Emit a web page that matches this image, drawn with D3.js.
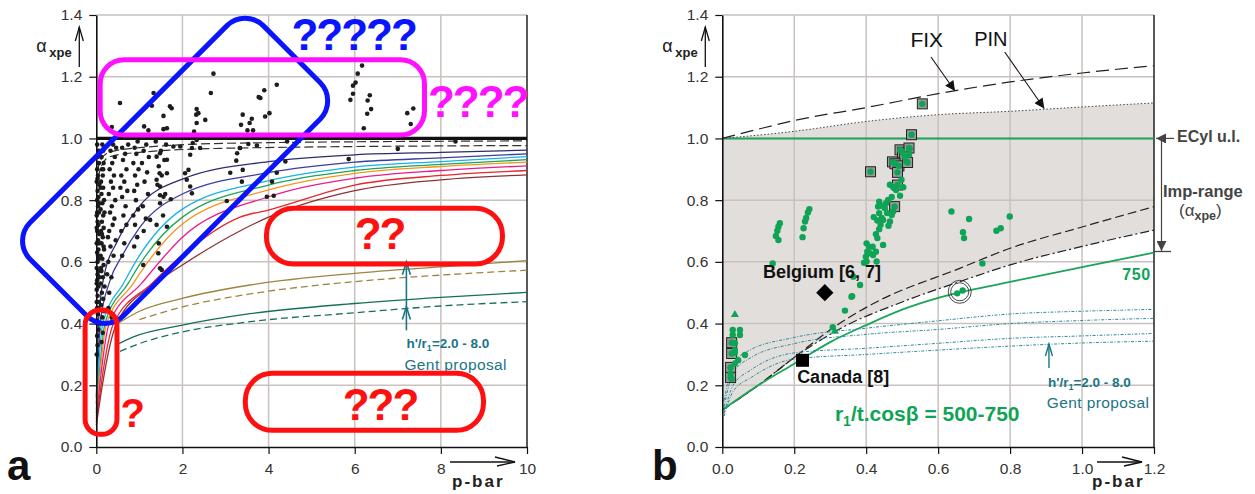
<!DOCTYPE html>
<html>
<head>
<meta charset="utf-8">
<script src="https://cdn.jsdelivr.net/npm/d3@7"></script>
<style>
body { margin: 0; background: #fff; }
svg { font-family: "Liberation Sans", Arial, sans-serif; }
</style>
</head>
<body>
<svg id="chart" width="1255" height="494"></svg>
<script>
// ---------- data ----------
const yTicks = [0, 0.2, 0.4, 0.6, 0.8, 1.0, 1.2, 1.4];
const aXTicks = [0, 2, 4, 6, 8, 10];
const bXTicks = [0, 0.2, 0.4, 0.6, 0.8, 1.0, 1.2];

// panel a : design curves (p-bar, alpha)
const aNavy = [[0,0.16],[0.01,0.2],[0.05,0.4],[0.16,0.54],[0.5,0.67],[1,0.78],[2,0.868],[4,0.925],[6,0.947],[8,0.955],[10,0.962]];
const aBlue = [[0,0.14],[0.02,0.2],[0.09,0.4],[0.32,0.54],[0.6,0.62],[1,0.71],[2,0.82],[4,0.889],[6,0.923],[8,0.937],[10,0.95]];
const aCyan = [[0,0.12],[0.03,0.2],[0.15,0.4],[0.63,0.53],[1,0.62],[2,0.771],[4,0.863],[6,0.907],[8,0.925],[10,0.941]];
const aGreen = [[0,0.11],[0.05,0.2],[0.2,0.4],[0.74,0.53],[1,0.59],[2,0.745],[4,0.849],[6,0.896],[8,0.916],[10,0.931]];
const aOrange = [[0,0.1],[0.06,0.2],[0.24,0.4],[0.86,0.53],[1,0.56],[2,0.723],[4,0.833],[6,0.887],[8,0.909],[10,0.923]];
const aMagenta = [[0,0.09],[0.08,0.2],[0.3,0.4],[1.05,0.53],[2,0.68],[4,0.811],[6,0.871],[8,0.896],[10,0.911]];
const aRed = [[0,0.08],[0.11,0.2],[0.4,0.4],[1.29,0.53],[2,0.622],[3.34,0.745],[4,0.768],[6,0.849],[8,0.88],[10,0.896]];
const aBrown = [[0,0.07],[0.14,0.2],[0.47,0.4],[1.37,0.53],[2,0.59],[3.4,0.705],[4,0.745],[6,0.831],[8,0.866],[10,0.882]];
const aDash1 = [[0.02,0.89],[0.1,0.93],[0.3,0.955],[1,0.97],[3.3,0.985],[10,0.992]];
const aDash2 = [[0.03,0.87],[0.12,0.91],[0.3,0.94],[1,0.955],[3.3,0.969],[10,0.977]];
const aOliveSolid = [[0.5,0.4],[1,0.44],[2,0.482],[3.57,0.525],[6,0.563],[8,0.584],[10,0.604]];
const aOliveDashed = [[1,0.413],[2,0.454],[3.57,0.496],[6,0.536],[8,0.557],[10,0.573]];
const aTealSolid = [[0.45,0.33],[0.86,0.357],[2,0.395],[3.57,0.432],[6,0.465],[8,0.485],[10,0.501]];
const aTealDashed = [[0.55,0.31],[1.02,0.336],[2,0.373],[3.57,0.406],[6,0.435],[8,0.457],[10,0.471]];
const aUnity = 1.0;

// panel a : test results
const aDots = [
  [0.01,0.30],[0.03,0.33],[0.02,0.36],[0.05,0.38],[0.01,0.41],[0.04,0.43],[0.02,0.45],[0.06,0.47],[0.03,0.49],[0.01,0.51],
  [0.05,0.52],[0.02,0.54],[0.07,0.55],[0.04,0.57],[0.01,0.58],[0.03,0.6],[0.06,0.61],[0.02,0.63],[0.05,0.64],[0.01,0.66],
  [0.04,0.67],[0.07,0.69],[0.02,0.7],[0.05,0.72],[0.03,0.73],[0.01,0.75],[0.06,0.76],[0.04,0.78],[0.02,0.8],[0.05,0.81],
  [0.03,0.83],[0.07,0.85],[0.01,0.86],[0.04,0.88],[0.02,0.9],[0.06,0.92],[0.03,0.94],[0.05,0.96],[0.02,0.98],[0.01,0.47],
  [0.03,0.56],[0.06,0.66],[0.01,0.71],[0.04,0.62],[0.02,0.76],[0.07,0.79],[0.03,0.87],[0.01,0.53],[0.05,0.45],[0.03,0.4],
  [0.12,0.34],[0.15,0.37],[0.1,0.4],[0.14,0.42],[0.18,0.44],[0.11,0.46],[0.16,0.48],[0.13,0.5],[0.19,0.52],[0.1,0.53],
  [0.15,0.55],[0.12,0.57],[0.17,0.59],[0.14,0.61],[0.1,0.62],[0.18,0.64],[0.12,0.66],[0.15,0.68],[0.11,0.7],[0.17,0.71],
  [0.13,0.73],[0.16,0.75],[0.1,0.77],[0.14,0.79],[0.18,0.8],[0.12,0.82],[0.16,0.84],[0.11,0.86],[0.15,0.88],[0.13,0.9],
  [0.17,0.92],[0.12,0.94],[0.16,0.96],[0.14,0.98],[0.11,0.58],[0.17,0.65],[0.13,0.69],[0.19,0.76],[0.1,0.84],[0.16,0.9],
  [0.3,0.5],[0.35,0.55],[0.28,0.6],[0.4,0.62],[0.33,0.65],[0.45,0.67],[0.3,0.7],[0.38,0.72],[0.42,0.74],[0.32,0.76],
  [0.36,0.78],[0.44,0.8],[0.29,0.82],[0.39,0.84],[0.34,0.86],[0.41,0.88],[0.31,0.9],[0.37,0.92],[0.43,0.94],[0.33,0.96],
  [0.39,0.98],[0.46,0.97],[0.28,0.45],[0.36,0.42],[0.25,0.56],[0.27,0.68],
  [0.6,0.62],[0.65,0.66],[0.58,0.7],[0.7,0.72],[0.63,0.75],[0.68,0.78],[0.6,0.81],[0.72,0.83],[0.65,0.86],[0.58,0.88],
  [0.7,0.9],[0.62,0.93],[0.67,0.95],[0.6,0.97],[0.74,0.98],[0.56,0.84],
  [0.88,0.65],[0.95,0.68],[0.9,0.72],[0.86,0.75],[0.97,0.77],[0.92,0.8],[0.88,0.83],[0.95,0.85],[0.9,0.88],[0.98,0.9],
  [0.86,0.92],[0.93,0.95],[0.89,0.97],[0.96,0.99],
  [1.1,0.7],[1.15,0.74],[1.08,0.78],[1.2,0.82],[1.12,0.86],[1.18,0.89],[1.06,0.92],[1.22,0.94],[1.1,0.96],[1.16,0.98],[1.09,0.59],
  [1.45,0.66],[1.4,0.72],[1.55,0.75],[1.48,0.79],[1.6,0.82],[1.42,0.85],[1.52,0.88],[1.45,0.91],[1.58,0.93],[1.5,0.96],
  [1.62,0.98],[1.38,0.99],[1.52,0.574],[1.48,0.816],[1.25,0.736],[1.64,0.714],[1.44,0.628],[1.48,0.579],
  [1.95,0.974],[2.24,0.985],[2.22,0.969],[2.18,0.947],[2.06,0.887],[2.14,0.898],[2.1,0.866],[2.18,0.844],[2.22,0.822],
  [1.79,0.974],[1.48,0.952],[1.64,0.931],[1.4,0.941],[1.47,0.887],[1.64,0.887],[1.4,0.866],[1.48,0.844],[1.56,0.811],[1.73,0.803],
  [3.27,0.952],[3.25,0.928],[3.33,0.969],[3.53,0.982],[3.73,0.977],[3.11,0.889],[3.4,0.898],[3.38,0.86],[3.03,0.797],
  [4.43,0.99],[4.19,0.889],[4.08,0.86],[3.96,0.811],[4.12,0.814],[2.33,0.995],[2.41,0.969],[4.39,0.925],[3.34,0.969],
  [5.86,0.933],[7.0,0.966],[8.34,0.99],
  // above unity
  [0.55,1.115],[1.33,1.147],[1.29,1.106],[1.71,1.104],[1.75,1.098],[1.56,1.073],[2.72,1.21],[2.66,1.147],[2.33,1.095],[2.37,1.082],
  [2.32,1.077],[2.53,1.06],[2.33,1.05],[4.19,1.174],[3.9,1.156],[3.77,1.134],[3.81,1.131],[4.02,1.082],[3.92,1.071],[3.4,1.077],
  [3.61,1.064],[3.36,1.044],[3.56,1.05],[3.51,1.026],[3.64,1.026],[1.11,1.039],[1.21,1.026],[1.56,1.03],[1.64,1.033],[2.27,1.022],
  [0.36,1.037],[6.17,1.236],[6.07,1.21],[6.02,1.181],[5.96,1.171],[5.96,1.145],[5.9,1.125],[6.35,1.14],[6.3,1.123],[6.38,1.095],
  [6.29,1.08],[6.21,1.033],[7.36,1.097],[7.22,1.082],[7.3,1.047]
];

// panel b : curves (p-bar, alpha)
const bFix = [[0,1.0],[0.1,1.03],[0.2,1.058],[0.4,1.1],[0.6,1.145],[0.8,1.183],[1.0,1.212],[1.2,1.236]];
const bPin = [[0,1.0],[0.2,1.023],[0.4,1.055],[0.6,1.077],[0.8,1.088],[1.0,1.102],[1.2,1.115]];
const bDashed = [[0,0.12],[0.1,0.2],[0.2,0.29],[0.3,0.38],[0.42,0.465],[0.66,0.579],[0.8,0.644],[1.0,0.713],[1.2,0.779]];
const bDashDot = [[0,0.12],[0.1,0.2],[0.2,0.29],[0.33,0.385],[0.5,0.47],[0.66,0.536],[0.8,0.59],[1.0,0.65],[1.2,0.703]];
const bGreen750 = [[0,0.12],[0.1,0.2],[0.2,0.27],[0.3,0.34],[0.4,0.395],[0.5,0.445],[0.6,0.483],[0.8,0.535],[1.0,0.583],[1.2,0.63]];
const bEcyl = 1.0;
const bGent = [
  [[0.005,0.15],[0.03,0.27],[0.07,0.31],[0.2,0.355],[0.4,0.385],[0.6,0.409],[0.8,0.431],[1.0,0.44],[1.2,0.446]],
  [[0.005,0.13],[0.03,0.24],[0.08,0.29],[0.2,0.335],[0.4,0.365],[0.6,0.381],[0.8,0.4],[1.0,0.41],[1.2,0.417]],
  [[0.005,0.11],[0.03,0.2],[0.08,0.25],[0.2,0.305],[0.4,0.32],[0.6,0.336],[0.8,0.352],[1.0,0.36],[1.2,0.368]],
  [[0.005,0.1],[0.03,0.18],[0.08,0.225],[0.2,0.285],[0.4,0.3],[0.6,0.314],[0.8,0.327],[1.0,0.337],[1.2,0.343]]
];

// panel b : test results
const bDots = [
  [0.521,0.966],[0.519,0.947],[0.512,0.925],[0.498,0.866],[0.503,0.842],[0.494,0.814],[0.475,0.842],[0.466,0.85],[0.483,0.833],[0.471,0.81],
  [0.461,0.801],[0.455,0.79],[0.436,0.795],[0.433,0.779],[0.446,0.781],[0.452,0.774],[0.458,0.758],[0.471,0.752],[0.475,0.763],[0.436,0.758],
  [0.443,0.742],[0.431,0.734],[0.44,0.72],[0.447,0.736],[0.421,0.745],[0.466,0.731],[0.462,0.717],[0.436,0.706],[0.427,0.69],[0.431,0.677],
  [0.447,0.655],[0.401,0.66],[0.408,0.649],[0.418,0.649],[0.403,0.633],[0.399,0.617],[0.427,0.633],[0.401,0.601],[0.394,0.597],[0.383,0.525],
  [0.361,0.489],[0.14,0.595],[0.16,0.725],[0.156,0.714],[0.153,0.701],[0.149,0.684],[0.156,0.671],[0.242,0.771],[0.238,0.76],[0.233,0.742],
  [0.23,0.731],[0.226,0.709],[0.223,0.68],[0.41,0.628],[0.419,0.622],[0.429,0.601],[0.364,0.552],[0.359,0.487],[0.341,0.442],[0.307,0.388],
  [0.029,0.379],[0.029,0.363],[0.049,0.379],[0.049,0.363],[0.035,0.314],[0.044,0.281],[0.035,0.271],[0.063,0.298],[0.035,0.336],[0.035,0.306],
  [0.023,0.238],[0.026,0.22],[0.653,0.498],[0.668,0.507],[0.723,0.595],[0.637,0.763],[0.686,0.739],[0.669,0.696],[0.672,0.677],[0.762,0.701],
  [0.774,0.709],[0.799,0.747]
];
const bSquares = [
  [0.556,1.112],[0.526,1.012],[0.494,0.963],[0.501,0.955],[0.519,0.969],[0.507,0.94],[0.473,0.924],[0.48,0.918],[0.491,0.911],[0.515,0.922],
  [0.487,0.89],[0.412,0.892],[0.487,0.849],[0.479,0.779],[0.026,0.338],[0.026,0.303],[0.023,0.258],[0.023,0.225]
];
const bTriangles = [[0.035,0.431],[0.313,0.377]];
const bBelgium = [0.285, 0.5];
const bCanada = [0.223, 0.281];
const bCircled = [0.66, 0.503];

// ---------- drawing ----------
const svg = d3.select("#chart");
const gridColor = "#c9c1bd";
const fmt1 = d3.format(".1f");

const defs = svg.append("defs");
defs.append("marker").attr("id", "fillHead").attr("viewBox", "0 0 10 10")
  .attr("refX", 10).attr("refY", 5).attr("markerWidth", 14).attr("markerHeight", 10)
  .attr("markerUnits", "userSpaceOnUse").attr("orient", "auto")
  .append("path").attr("d", "M0,0 L10,5 L0,10 Z").attr("fill", "#111");
defs.append("marker").attr("id", "greyHead").attr("viewBox", "0 0 10 10")
  .attr("refX", 10).attr("refY", 5).attr("markerWidth", 14).attr("markerHeight", 10)
  .attr("markerUnits", "userSpaceOnUse").attr("orient", "auto")
  .append("path").attr("d", "M0,0 L10,5 L0,10 Z").attr("fill", "#444");

// arrowStart / titleStart: distance of the p-bar arrow and title from the right edge
function makePanel(xDomain, x0, x1, xTicks, xFmt, arrowStart, titleStart) {
  const x = d3.scaleLinear().domain(xDomain).range([x0, x1]);
  const y = d3.scaleLinear().domain([0, 1.4]).range([447, 15]);
  const back = svg.append("g");
  const grid = svg.append("g");
  const body = svg.append("g");
  const front = svg.append("g");

  grid.selectAll("line.gx").data(xTicks.slice(1, -1)).join("line")
    .attr("x1", d => x(d)).attr("x2", d => x(d)).attr("y1", y(0)).attr("y2", y(1.4))
    .attr("stroke", gridColor).attr("stroke-width", 1.5);
  grid.selectAll("line.gy").data(yTicks.slice(1)).join("line")
    .attr("x1", x0).attr("x2", x1).attr("y1", d => y(d)).attr("y2", d => y(d))
    .attr("stroke", gridColor).attr("stroke-width", 1.5);
  grid.append("line").attr("x1", x1).attr("x2", x1).attr("y1", y(1.4)).attr("y2", y(0))
    .attr("stroke", "#222").attr("stroke-width", 1.5);

  const ax = front.append("g").attr("transform", `translate(0,${y(0)})`)
    .call(d3.axisBottom(x).tickValues(xTicks).tickSize(7).tickSizeOuter(0).tickPadding(9).tickFormat(xFmt));
  const ay = front.append("g").attr("transform", `translate(${x0},0)`)
    .call(d3.axisLeft(y).tickValues(yTicks).tickSize(7).tickSizeOuter(0).tickPadding(7).tickFormat(fmt1));
  [ax, ay].forEach(a => {
    a.select(".domain").attr("stroke", "#111").attr("stroke-width", 1.6);
    a.selectAll(".tick line").attr("stroke", "#111").attr("stroke-width", 1.2);
    a.selectAll(".tick text").attr("font-size", 15.5).attr("fill", "#333")
      .attr("font-family", "Liberation Sans, Arial, sans-serif");
  });

  // y title: alpha_xpe with arrow
  const yt = front.append("g");
  yt.append("text").attr("x", x0 - 60).attr("y", 52).attr("font-size", 18).attr("fill", "#222").text("α");
  yt.append("text").attr("x", x0 - 47).attr("y", 57).attr("font-size", 13).attr("font-weight", "bold")
    .attr("fill", "#222").text("xpe");
  yt.append("line").attr("x1", x0 - 17).attr("x2", x0 - 17).attr("y1", 67).attr("y2", 27)
    .attr("stroke", "#111").attr("stroke-width", 1.3);
  yt.append("path").attr("d", `M${x0 - 21},41 L${x0 - 17},27 L${x0 - 13},41`)
    .attr("fill", "none").attr("stroke", "#111").attr("stroke-width", 1.3);

  // x title: p-bar with arrow
  const xe = x1;
  front.append("line").attr("x1", xe - arrowStart).attr("x2", xe - 12).attr("y1", 462).attr("y2", 462)
    .attr("stroke", "#111").attr("stroke-width", 1.3);
  front.append("path").attr("d", `M${xe - 32},457 L${xe - 12},462 L${xe - 30},466`)
    .attr("fill", "none").attr("stroke", "#111").attr("stroke-width", 1.3);
  front.append("text").attr("x", xe - titleStart).attr("y", 487).attr("font-size", 17).attr("font-weight", "bold")
    .attr("letter-spacing", 2).attr("fill", "#222").text("p-bar");

  return { x, y, back, grid, body, front };
}

const line = (x, y) => d3.line().x(d => x(d[0])).y(d => y(d[1])).curve(d3.curveMonotoneX);

// ===== panel a =====
const A = makePanel([0, 10], 96.3, 527, aXTicks, d3.format("d"), 77, 75);
const la = line(A.x, A.y);

A.body.append("line").attr("x1", A.x(0)).attr("x2", A.x(10)).attr("y1", A.y(aUnity)).attr("y2", A.y(aUnity))
  .attr("stroke", "#111").attr("stroke-width", 3.2);
[[aDash1, "9,4"], [aDash2, "9,4"]].forEach(([d, dash]) =>
  A.body.append("path").attr("d", la(d)).attr("fill", "none").attr("stroke", "#333")
    .attr("stroke-width", 1.2).attr("stroke-dasharray", dash));

const aCurves = [aNavy, aBlue, aCyan, aGreen, aOrange, aMagenta, aRed, aBrown];
const aColors = ["#2b2d6e", "#3a3f9e", "#17b2e6", "#1aa55a", "#f7941d", "#ec1a8c", "#e8262b", "#8c3234"];
aCurves.forEach((c, i) =>
  A.body.append("path").attr("d", la(c)).attr("fill", "none").attr("stroke", aColors[i]).attr("stroke-width", 1.3));

[[aOliveSolid, "#9d8440", null], [aOliveDashed, "#9d8440", "7,4"],
 [aTealSolid, "#137158", null], [aTealDashed, "#137158", "7,4"]].forEach(([d, col, dash]) =>
  A.body.append("path").attr("d", la(d)).attr("fill", "none").attr("stroke", col)
    .attr("stroke-width", 1.3).attr("stroke-dasharray", dash));

A.body.selectAll("circle.dot").data(aDots).join("circle")
  .attr("cx", d => A.x(d[0])).attr("cy", d => A.y(d[1])).attr("r", 2.3).attr("fill", "#1d1d1d");

// Gent annotation (panel a)
const teal = "#1a7585";
const ga = A.front.append("g");
ga.append("line").attr("x1", A.x(7.2)).attr("x2", A.x(7.2)).attr("y1", A.y(0.6)).attr("y2", A.y(0.378))
  .attr("stroke", teal).attr("stroke-width", 1.6);
[0.6, 0.455].forEach(v =>
  ga.append("path").attr("d", `M${A.x(7.2) - 4},${A.y(v) + 13} L${A.x(7.2)},${A.y(v)} L${A.x(7.2) + 4},${A.y(v) + 13}`)
    .attr("fill", "none").attr("stroke", teal).attr("stroke-width", 1.6));
const ht = ga.append("text").attr("x", A.x(7.2)).attr("y", 348).attr("font-size", 13.5).attr("font-weight", "bold").attr("fill", teal);
ht.append("tspan").text("h'/r");
ht.append("tspan").attr("font-size", 9).attr("dy", 3).text("1");
ht.append("tspan").attr("dy", -3).text("=2.0 - 8.0");
ga.append("text").attr("x", A.x(7.2) - 2).attr("y", 370).attr("font-size", 15.5).attr("letter-spacing", 0.4)
  .attr("fill", teal).text("Gent proposal");

// highlight shapes (panel a)
const hs = A.front.append("g").attr("fill", "none").attr("stroke-width", 5);
hs.append("rect").attr("transform", `translate(${A.x(1.83)},${A.y(0.895)}) rotate(-45)`)
  .attr("x", -165).attr("y", -66).attr("width", 330).attr("height", 132).attr("rx", 26)
  .attr("stroke", "#0a14ff");
hs.append("rect").attr("x", A.x(0.09)).attr("y", A.y(1.255)).attr("width", A.x(7.62) - A.x(0.09))
  .attr("height", A.y(1.011) - A.y(1.255)).attr("rx", 24).attr("stroke", "#ff10ff");
[[3.95, 9.43, 0.774, 0.593, 27], [3.46, 8.99, 0.239, 0.054, 27], [-0.26, 0.48, 0.444, 0.041, 15]].forEach(([p0, p1, a0, a1, r]) =>
  hs.append("rect").attr("x", A.x(p0)).attr("y", A.y(a0)).attr("width", A.x(p1) - A.x(p0))
    .attr("height", A.y(a1) - A.y(a0)).attr("rx", r).attr("stroke", "#ff1010"));

const q = A.front.append("g").attr("font-weight", "bold").attr("font-size", 44);
q.append("text").attr("x", A.x(4.53)).attr("y", 50).attr("fill", "#0a14ff").attr("letter-spacing", -2).text("?????");
q.append("text").attr("x", A.x(7.7)).attr("y", 117).attr("fill", "#ff10ff").attr("letter-spacing", -2).text("????");
q.append("text").attr("x", A.x(6.0)).attr("y", 249).attr("fill", "#ff1010").attr("letter-spacing", -2).text("??");
q.append("text").attr("x", A.x(5.72)).attr("y", 420).attr("fill", "#ff1010").attr("letter-spacing", -2).text("???");
q.append("text").attr("x", A.x(0.56)).attr("y", 427).attr("fill", "#ff1010").attr("font-size", 40).text("?");

svg.append("text").attr("x", 7).attr("y", 480).attr("font-size", 42).attr("font-weight", "bold").attr("fill", "#111").text("a");

// ===== panel b =====
const B = makePanel([0, 1.2], 722.3, 1154, bXTicks, fmt1, 57, 62);
const lb = line(B.x, B.y);

const fillPath = lb(bPin) + "L" + lb(bDashDot.slice().reverse()).slice(1) + "Z";
B.back.append("path").attr("d", fillPath).attr("fill", "#e2dedb");

B.body.append("line").attr("x1", B.x(0)).attr("x2", B.x(1.2)).attr("y1", B.y(bEcyl)).attr("y2", B.y(bEcyl))
  .attr("stroke", "#1aa55a").attr("stroke-width", 2);
B.body.append("path").attr("d", lb(bFix)).attr("fill", "none").attr("stroke", "#222").attr("stroke-width", 1.2).attr("stroke-dasharray", "13,6");
B.body.append("path").attr("d", lb(bPin)).attr("fill", "none").attr("stroke", "#444").attr("stroke-width", 1).attr("stroke-dasharray", "1.5,2");
B.body.append("path").attr("d", lb(bDashed)).attr("fill", "none").attr("stroke", "#222").attr("stroke-width", 1.2).attr("stroke-dasharray", "9,4");
B.body.append("path").attr("d", lb(bDashDot)).attr("fill", "none").attr("stroke", "#222").attr("stroke-width", 1.2).attr("stroke-dasharray", "9,3,2,3");
B.body.append("path").attr("d", lb(bGreen750)).attr("fill", "none").attr("stroke", "#1aa55a").attr("stroke-width", 1.8);
bGent.forEach(g =>
  B.body.append("path").attr("d", lb(g)).attr("fill", "none").attr("stroke", "#2a8b9b").attr("stroke-width", 1)
    .attr("stroke-dasharray", "3,1.5,1,1.5"));

const green = "#0fa455";
B.body.selectAll("rect.sq").data(bSquares).join("rect")
  .attr("x", d => B.x(d[0]) - 5).attr("y", d => B.y(d[1]) - 5).attr("width", 10).attr("height", 10)
  .attr("fill", "#9a9a9a").attr("stroke", "#222").attr("stroke-width", 1);
B.body.selectAll("circle.gd").data(bDots.concat(bSquares)).join("circle")
  .attr("cx", d => B.x(d[0])).attr("cy", d => B.y(d[1])).attr("r", 3.2).attr("fill", green);
B.body.selectAll("path.tri").data(bTriangles).join("path")
  .attr("d", d => `M${B.x(d[0])},${B.y(d[1]) - 4} l4,7 l-8,0 Z`).attr("fill", green);

[9, 11.5].forEach(r =>
  B.body.append("circle").attr("cx", B.x(bCircled[0])).attr("cy", B.y(bCircled[1])).attr("r", r)
    .attr("fill", "none").attr("stroke", "#333").attr("stroke-width", 0.9));

B.body.append("path").attr("d", d3.symbol(d3.symbolDiamond2, 190)())
  .attr("transform", `translate(${B.x(bBelgium[0])},${B.y(bBelgium[1])})`).attr("fill", "#000");
B.body.append("rect").attr("x", B.x(bCanada[0]) - 6.5).attr("y", B.y(bCanada[1]) - 6.5)
  .attr("width", 13).attr("height", 13).attr("fill", "#000");

const fb = B.front.append("g").attr("fill", "#111");
fb.append("text").attr("x", B.x(0.113)).attr("y", 278).attr("font-size", 18).attr("font-weight", "bold").text("Belgium [6, 7]");
fb.append("text").attr("x", B.x(0.208)).attr("y", 383).attr("font-size", 18).attr("font-weight", "bold").text("Canada [8]");
fb.append("text").attr("x", B.x(0.523)).attr("y", 47).attr("font-size", 21).text("FIX");
fb.append("text").attr("x", B.x(0.7)).attr("y", 46).attr("font-size", 20).text("PIN");
fb.append("line").attr("x1", B.x(0.58)).attr("y1", 57).attr("x2", B.x(0.647)).attr("y2", 91)
  .attr("stroke", "#111").attr("stroke-width", 1.1).attr("marker-end", "url(#fillHead)");
fb.append("line").attr("x1", B.x(0.785)).attr("y1", 52).attr("x2", B.x(0.895)).attr("y2", 108.5)
  .attr("stroke", "#111").attr("stroke-width", 1.1).attr("marker-end", "url(#fillHead)");

const green750 = B.front.append("g").attr("fill", green).attr("font-weight", "bold");
green750.append("text").attr("x", B.x(1.112)).attr("y", 280).attr("font-size", 16).attr("letter-spacing", 0.5).text("750");
const rt = green750.append("text").attr("x", B.x(0.313)).attr("y", 421).attr("font-size", 21);
rt.append("tspan").text("r");
rt.append("tspan").attr("font-size", 14).attr("dy", 5).text("1");
rt.append("tspan").attr("dy", -5).text("/t.cosβ = 500-750");

// ECyl / Imp-range annotations
const ec = B.front.append("g").attr("fill", "#444");
ec.append("line").attr("x1", 1174).attr("y1", B.y(bEcyl)).attr("x2", 1156).attr("y2", B.y(bEcyl))
  .attr("stroke", "#444").attr("stroke-width", 1.2).attr("marker-end", "url(#greyHead)");
ec.append("text").attr("x", 1177).attr("y", 142).attr("font-size", 16).attr("font-weight", "bold").text("ECyl u.l.");
ec.append("line").attr("x1", 1161.5).attr("y1", B.y(bEcyl) + 2).attr("x2", 1161.5).attr("y2", 251)
  .attr("stroke", "#444").attr("stroke-width", 1.2).attr("marker-end", "url(#greyHead)");
ec.append("line").attr("x1", 1153).attr("y1", 251.5).attr("x2", 1171).attr("y2", 251.5).attr("stroke", "#444").attr("stroke-width", 1.3);
ec.append("text").attr("x", 1163).attr("y", 197).attr("font-size", 16.5).attr("font-weight", "bold").text("Imp-range");
const ip = ec.append("text").attr("x", 1179).attr("y", 216).attr("font-size", 17);
ip.append("tspan").text("(α");
ip.append("tspan").attr("font-size", 12.5).attr("font-weight", "bold").attr("dy", 4).text("xpe");
ip.append("tspan").attr("dy", -4).text(")");

// Gent annotation (panel b)
const gb = B.front.append("g");
gb.append("line").attr("x1", B.x(0.908)).attr("x2", B.x(0.908)).attr("y1", 368).attr("y2", 344)
  .attr("stroke", teal).attr("stroke-width", 1.4);
gb.append("path").attr("d", `M${B.x(0.908) - 3.5},356 L${B.x(0.908)},344 L${B.x(0.908) + 3.5},356`)
  .attr("fill", "none").attr("stroke", teal).attr("stroke-width", 1.4);
const hb = gb.append("text").attr("x", B.x(0.908) - 1).attr("y", 387).attr("font-size", 13.5).attr("font-weight", "bold").attr("fill", teal);
hb.append("tspan").text("h'/r");
hb.append("tspan").attr("font-size", 9).attr("dy", 3).text("1");
hb.append("tspan").attr("dy", -3).text("=2.0 - 8.0");
gb.append("text").attr("x", B.x(0.902)).attr("y", 408).attr("font-size", 15.5).attr("letter-spacing", 0.4)
  .attr("fill", teal).text("Gent proposal");

svg.append("text").attr("x", 652).attr("y", 480).attr("font-size", 42).attr("font-weight", "bold").attr("fill", "#111").text("b");
</script>
</body>
</html>
